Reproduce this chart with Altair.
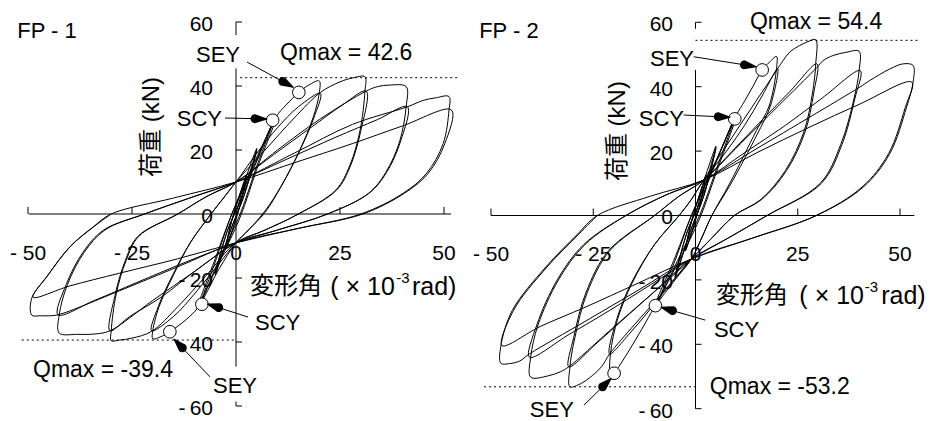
import math
import altair as alt
import pandas as pd

FONT = "Liberation Sans, Noto Sans CJK JP, sans-serif"

# ---------------- FP-1 hysteresis path (drift x10^-3 rad, load kN) ----------------
FP1_SMALL = [
    (0, 0), (2.5, 12), (1, 3), (-2.5, -11), (-1, -2), (2.5, 12), (1, 3), (-2.5, -11), (-1, -2),
    (5, 20.5), (2, 6), (-1, -4), (-5, -19), (-2, -5), (1, 4), (5, 20), (2, 6), (-1, -4), (-5, -18.5), (-2, -5), (1, 4),
    (9.5, 30.5), (5, 15), (1, 0), (-4, -14), (-9, -29.5), (-5, -15), (-1, 0), (4, 15), (9.6, 29.8), (5, 14), (1, -1),
    (-4, -15), (-9.2, -29), (-5, -14), (-1, 0),
]
FP1_L20 = [
    (4, 14), (9.6, 30.3), (12, 34), (15.1, 38), (17.5, 40.3), (20, 41.6), (20, 37.7),
    (18.5, 30), (15, 19), (11, 9), (7, 1), (3, -5), (0, -9), (-4, -17), (-9.2, -29.3), (-12, -33), (-15.9, -36.8),
    (-18, -38.3), (-20, -39), (-20, -36.5),
    (-18.5, -29), (-15, -19), (-11, -9), (-6, 0), (-3, 5), (0, 10),
    (5, 19), (10, 27), (15, 33.5), (20.3, 37.7), (18.7, 30), (15.2, 19.5), (11, 9), (7, 0.5), (3, -5), (0, -9),
    (-5, -17), (-10, -25), (-15, -32), (-20.3, -36.5), (-18.7, -29), (-15.2, -19), (-11, -9), (-6, 0), (-3, 5), (0, 10),
]
FP1_L30 = [
    (7, 20), (14, 30), (20.3, 38), (25, 41.3), (28, 42.5), (31, 42.9), (31, 38.4),
    (29.8, 26), (27.3, 15), (24, 7.5), (15, 0), (7, -5), (0, -9),
    (-7, -19), (-14, -29), (-20.3, -36.7), (-25, -38.8), (-28, -39.4), (-30, -39.6), (-30, -36.5),
    (-28.8, -25), (-26.4, -14.5), (-23.4, -7), (-14, 0), (-7, 5.5), (0, 10),
    (9, 18.5), (18, 27), (25.5, 34), (31.3, 38.4), (30, 26), (27.5, 15), (24.2, 7.5), (15, 0), (7, -5), (0, -9),
    (-9, -17), (-18, -26), (-25.5, -32), (-30.3, -36.5), (-29, -25), (-26.6, -14.5), (-23.6, -7), (-14, 0), (-7, 5.5), (0, 10),
]
FP1_L40 = [
    (10, 20), (20, 29.5), (31.3, 38.4), (34, 39.8), (37, 40.3), (40.9, 39.8), (40.9, 33.5),
    (39.3, 22.5), (36, 13), (31.9, 6.5), (22, 0), (10, -5), (0, -9),
    (-10, -18), (-20, -27), (-30.3, -36.5), (-34, -37.5), (-38, -37.6), (-42.5, -37.2), (-42.5, -31.5),
    (-40.5, -22), (-36.5, -12), (-31.5, -5), (-22, 0), (-10, 5.5), (0, 10),
    (12, 17), (24, 24), (34, 29.5), (41.2, 33.5), (39.5, 22.5), (36.2, 13), (32, 6.5), (22, 0), (10, -5), (0, -9),
    (-12, -15), (-24, -21.5), (-34, -27), (-42.8, -31.5), (-40.8, -22), (-36.8, -12), (-31.8, -5), (-22, 0), (-10, 5.5), (0, 10),
]
FP1_L50 = [
    (14, 19), (28, 28), (41.2, 33.5), (45, 35.5), (48, 36.3), (51.2, 36.7), (51.2, 32.5),
    (49.8, 22), (45.8, 12.7), (40.2, 6.5), (30, 0), (15, -4.5), (0, -9),
    (-14, -16.5), (-28, -24), (-42.8, -31.5), (-45, -31.8), (-47, -31.8), (-49.1, -31.6), (-49.1, -26.3),
    (-45.5, -19.6), (-39.9, -10.2), (-34.3, -4), (-30, 0), (-15, 5), (0, 10),
    (14, 16), (28, 22), (40, 27.5), (51.8, 32.5), (50.2, 22), (46.2, 12.7), (40.5, 6.5), (30.5, 0), (15, -4.5), (0, -9),
    (-14, -14), (-28, -18.5), (-40, -22.5), (-48.8, -26), (-45.3, -19.3), (-39.7, -10), (-34, -3.8), (-30, 0),
]

# ---------------- FP-2 hysteresis path ----------------
FP2_SMALL = [
    (0, 0), (2.5, 12.5), (1, 3), (-2.5, -11), (-1, -2), (2.5, 12), (1, 3), (-2.5, -11), (-1, -2),
    (5, 21.5), (2, 6), (-1, -4), (-5, -19.5), (-2, -5), (1, 4), (5, 21), (2, 6), (-1, -4), (-5, -19), (-2, -5), (1, 4),
    (9.8, 31), (5, 14), (1, 0), (-4, -13), (-9.8, -28.5), (-5, -14), (-1, 0), (4, 14), (9.9, 30.5), (5, 13), (1, -1),
    (-4, -14), (-10, -28), (-5, -13), (-1, 0),
]
FP2_L20 = [
    (4, 14), (9.9, 31), (12, 35.5), (14, 40), (16.3, 45.2), (18, 47.5), (19.8, 49.4), (19.8, 45.6),
    (18, 34), (14.9, 26.4), (8.3, 9.8), (4, 0), (1.5, -7), (-1, -13.5), (-5, -20), (-10, -28.5), (-13, -35),
    (-16.5, -42.5), (-19.9, -49), (-20.8, -50.3), (-20.8, -43),
    (-19, -32), (-15.5, -21), (-10, -9), (-4, 0), (-1, 5), (2, 11),
    (7, 19), (12, 28), (16, 36.5), (20.1, 45.6), (18.3, 34), (15, 25), (8.5, 9.5), (4, 0), (1.5, -7), (-1, -13.5),
    (-6, -21), (-11, -29), (-16, -36.5), (-21, -43), (-19.2, -32), (-15.7, -21), (-10, -9), (-4, 0), (-1, 5), (2, 11),
]
FP2_L30 = [
    (8, 22.5), (14, 34), (20.1, 45.6), (21.4, 48.1), (23, 50.7), (25.5, 52.8), (27.5, 54), (29.4, 54.6), (29.4, 47.1),
    (28.6, 38), (26.5, 26), (22, 14), (16, 5), (9.5, 0), (4, -7), (-1, -13.5),
    (-8, -24), (-15, -34), (-21, -43), (-23, -47), (-26, -50.5), (-28.5, -52.5), (-30.7, -53.2), (-30.7, -47),
    (-29.5, -38), (-26.5, -24), (-21, -11), (-10, 0), (-4, 6), (2, 11),
    (9, 20), (16, 29.3), (23, 38.4), (29.7, 47.1), (28.9, 38), (26.8, 26), (22.3, 14), (16.2, 5), (9.5, 0), (4, -7), (-1, -13.5),
    (-9, -22.5), (-17, -31.5), (-24, -39.5), (-31, -47), (-29.8, -38), (-26.8, -24), (-21.3, -11), (-10, 0), (-4, 6), (2, 11),
]
FP2_L40 = [
    (11, 22.3), (20, 33.7), (29.7, 46), (31.2, 48.1), (33.7, 49.7), (36.9, 50.7), (40, 51), (40, 45),
    (38.8, 36.5), (35.5, 22), (30.5, 10), (17.5, 0), (8, -7), (-1, -13.5),
    (-11, -24.7), (-21, -35.8), (-31, -47), (-33, -48.5), (-36, -49.8), (-40.3, -50.2), (-40.3, -44),
    (-38.5, -34), (-33.5, -20), (-27, -9), (-17, 0), (-7, 6.5), (2, 11),
    (12, 19.5), (22, 28), (31, 36.5), (40.3, 45), (39, 36.5), (35.8, 22), (30.8, 10), (17.5, 0), (8, -7), (-1, -13.5),
    (-11, -21.5), (-21, -29.5), (-31, -37), (-40.6, -44), (-38.8, -34), (-33.8, -20), (-27.3, -9), (-17, 0), (-7, 6.5), (2, 11),
]
FP2_L50 = [
    (15, 20.8), (28, 30.6), (40.2, 39.9), (42.6, 41.9), (47.5, 45.5), (50.8, 47.1), (53.2, 46.6), (53.2, 41.4),
    (51.6, 33.6), (47.5, 19.2), (41, 8.8), (29.6, 0), (14, -7), (-1, -13.5),
    (-14, -23.2), (-27, -32.9), (-40.6, -43), (-43, -45.2), (-45.5, -46), (-47.6, -45.9), (-47.6, -40.6),
    (-44.8, -29.5), (-36.6, -16), (-29, -6), (-24, 0), (-11, 6), (2, 11),
    (15, 19.5), (28, 27.5), (40, 34.5), (52.9, 41.4), (51.3, 33.6), (47.2, 19.2), (40.7, 8.8), (29.5, 0), (14, -7), (-1, -13.5),
    (-14, -21), (-27, -28.5), (-38, -34.5), (-47.3, -40.4), (-44.5, -29.5), (-36.3, -16), (-28.7, -6), (-24, 0),
]

# ---------------- axes ----------------
X_TICK_VALS = [-50, -25, 0, 25, 50]
X_TICK_TEXT = ["- 50", "- 25", "0", "25", "50"]
X_TICK_MARKS = [-50, -25, 25, 50]
Y_TICK_VALS = [60, 40, 20, 0, -20, -40, -60]
Y_TICK_TEXT = ["60", "40", "20", "0", "-\u200920", "-\u200940", "-\u200960"]
Y_TICK_MARKS = [60, 40, 20, -20, -40, -60]

# ---------------- markers / annotations ----------------
FP1_MARK_X = [15.1, 8.8, -8.2, -15.9]
FP1_MARK_Y = [38.0, 29.3, -28.2, -36.8]
FP2_MARK_X = [16.3, 9.6, -9.8, -19.9]
FP2_MARK_Y = [45.2, 30.0, -28.0, -49.0]

# arrow: label-side start and tip (at the marker's edge)
FP1_ARROW_X0 = [2.64, -2.64, 2.88, -6.25]
FP1_ARROW_Y0 = [47.5, 30.0, -32.2, -50.9]
FP1_ARROW_TX = [13.77, 7.45, -6.9, -14.9]
FP1_ARROW_TY = [39.6, 29.7, -28.1, -39.1]

FP2_ARROW_X0 = [-0.44, -2.89, 2.4, -27.3]
FP2_ARROW_Y0 = [49.3, 31.2, -32.5, -58.9]
FP2_ARROW_TX = [14.87, 8.51, -8.44, -20.6]
FP2_ARROW_TY = [46.2, 30.5, -28.5, -50.6]

HEAD_LEN = 12   # px
HEAD_WIDTH = 9  # px

QMAX_FP1 = [42.6, -39.4]
QMAX_FP2 = [54.4, -53.2]

PANELS = [
    dict(
        name="FP - 1", name_xy=(-52.6, 57.2),
        path=FP1_SMALL + FP1_L20 + FP1_L30 + FP1_L40 + FP1_L50,
        xdom=[-54.81, 55.53], ydom=[-62.19, 64.375],
        xaxis=(-49.8, 51.7), xtick_len=2.19, ytick_len=1.44,
        yaxis_segs=[(60, 55.9), (45.5, -47.7), (-58.6, -60)],
        xlab_y=-12.5, ylab_x=-5.53,
        qmax=QMAX_FP1, qline_x=[(1, 53.8), (-51.5, 0)],
        qtext=[(10.6, 50.3, "Qmax = 42.6"), (-48.8, -48.75, "Qmax = -39.4")],
        lab_right=[(0.96, 49.7, "SEY"), (-3.37, 29.7, "SCY")],
        lab_left=[(4.57, -34.1, "SCY"), (-5.53, -53.75, "SEY")],
        mx=FP1_MARK_X, my=FP1_MARK_Y,
        ax0=FP1_ARROW_X0, ay0=FP1_ARROW_Y0, atx=FP1_ARROW_TX, aty=FP1_ARROW_TY,
        ytitle=(-20.2, 27.2),
        xt_main=(3.37, -22.8), xt_par=38.2, xt_sup=(38.5, -20.0), xt_rad=42.3,
    ),
    dict(
        name="FP - 2", name_xy=(-52.9, 57.3),
        path=FP2_SMALL + FP2_L20 + FP2_L30 + FP2_L40 + FP2_L50,
        xdom=[-55.87, 56.36], ydom=[-61.34, 64.44],
        xaxis=(-50.0, 53.5), xtick_len=2.17, ytick_len=1.47,
        yaxis_segs=[(60, 58.0), (45.2, -60)],
        xlab_y=-12.3, ylab_x=-5.5,
        qmax=QMAX_FP2, qline_x=[(0, 55.0), (-51.7, 0)],
        qtext=[(13.3, 60.1, "Qmax = 54.4"), (3.5, -53.3, "Qmax = -53.2")],
        lab_right=[(-0.37, 48.6, "SEY"), (-2.8, 30.0, "SCY")],
        lab_left=[(4.5, -35.6, "SCY"), (-40.5, -60.4, "SEY")],
        mx=FP2_MARK_X, my=FP2_MARK_Y,
        ax0=FP2_ARROW_X0, ay0=FP2_ARROW_Y0, atx=FP2_ARROW_TX, aty=FP2_ARROW_TY,
        ytitle=(-19.0, 26.2),
        xt_main=(5.0, -25.0), xt_par=41.2, xt_sup=(41.4, -22.2), xt_rad=45.4,
    ),
]

W, H = 459, 405


def make_panel(p):
    xs = alt.Scale(domain=p["xdom"], nice=False, zero=False)
    ys = alt.Scale(domain=p["ydom"], nice=False, zero=False)
    kx = W / (p["xdom"][1] - p["xdom"][0])   # px per x unit
    ky = H / (p["ydom"][1] - p["ydom"][0])   # px per y unit

    def X(f):
        return alt.X(f, type="quantitative", scale=xs, axis=None)

    def Y(f):
        return alt.Y(f, type="quantitative", scale=ys, axis=None)

    def text(rows, **kw):
        df = pd.DataFrame({"x": [r[0] for r in rows], "y": [r[1] for r in rows], "t": [r[2] for r in rows]})
        kw.setdefault("font", FONT)
        return alt.Chart(df).mark_text(color="black", **kw).encode(
            x=X("x"), y=Y("y"), text="t:N")

    path = p["path"]
    curve_df = pd.DataFrame({"x": [q[0] for q in path], "y": [q[1] for q in path], "i": list(range(len(path)))})
    curve = alt.Chart(curve_df).mark_line(
        color="black", strokeWidth=1, strokeJoin="round", interpolate="catmull-rom").encode(
        x=X("x"), y=Y("y"), order=alt.Order("i:Q"))

    xaxis = alt.Chart(pd.DataFrame({"x": [p["xaxis"][0]], "x2": [p["xaxis"][1]], "y": [0]})).mark_rule(
        color="black", strokeWidth=1).encode(x=X("x"), x2="x2:Q", y=Y("y"))
    xticks = alt.Chart(pd.DataFrame({"x": X_TICK_MARKS, "y": [0] * 4, "y2": [p["xtick_len"]] * 4})).mark_rule(
        color="black", strokeWidth=1).encode(x=X("x"), y=Y("y"), y2="y2:Q")
    segs = p["yaxis_segs"]
    yaxis = alt.Chart(pd.DataFrame({"x": [0] * len(segs), "y": [s[0] for s in segs], "y2": [s[1] for s in segs]})).mark_rule(
        color="black", strokeWidth=1).encode(x=X("x"), y=Y("y"), y2="y2:Q")
    yticks = alt.Chart(pd.DataFrame({"x": [0] * 6, "x2": [p["ytick_len"]] * 6, "y": Y_TICK_MARKS})).mark_rule(
        color="black", strokeWidth=1).encode(x=X("x"), x2="x2:Q", y=Y("y"))

    qdf = pd.DataFrame({"x": [q[0] for q in p["qline_x"]], "x2": [q[1] for q in p["qline_x"]], "y": p["qmax"]})
    qlines = alt.Chart(qdf).mark_rule(color="black", strokeWidth=1, strokeDash=[2, 3]).encode(
        x=X("x"), x2="x2:Q", y=Y("y"))

    # arrow shafts: from label to tip
    adf = pd.DataFrame({"x": p["ax0"], "y": p["ay0"], "x2": p["atx"], "y2": p["aty"]})
    shafts = alt.Chart(adf).mark_rule(color="black", strokeWidth=1).encode(
        x=X("x"), y=Y("y"), x2="x2:Q", y2="y2:Q")

    # arrow heads: tapered trail from head base (wide) to tip (zero width)
    rows = []
    for k, (x0, y0, tx, ty) in enumerate(zip(p["ax0"], p["ay0"], p["atx"], p["aty"])):
        dxp, dyp = (tx - x0) * kx, (ty - y0) * ky
        d = math.hypot(dxp, dyp)
        bx = tx - HEAD_LEN * dxp / d / kx
        by = ty - HEAD_LEN * dyp / d / ky
        rows.append({"x": bx, "y": by, "w": HEAD_WIDTH, "k": k, "o": 0})
        rows.append({"x": tx, "y": ty, "w": 0, "k": k, "o": 1})
    hdf = pd.DataFrame(rows)
    heads = alt.Chart(hdf).mark_trail(color="black", opacity=1).encode(
        x=X("x"), y=Y("y"), size=alt.Size("w:Q", scale=None, legend=None),
        detail="k:N", order=alt.Order("o:Q"))

    mdf = pd.DataFrame({"x": p["mx"], "y": p["my"]})
    marks = alt.Chart(mdf).mark_point(
        shape="circle", filled=True, fill="white", stroke="black", strokeWidth=1, size=160, opacity=1).encode(
        x=X("x"), y=Y("y"))

    xlabels = text([(v, p["xlab_y"], t) for v, t in zip(X_TICK_VALS, X_TICK_TEXT)],
                   align="center", baseline="middle", fontSize=21)
    ylabels = text([(p["ylab_x"], v, t) for v, t in zip(Y_TICK_VALS, Y_TICK_TEXT)],
                   align="right", baseline="middle", fontSize=21, dy=3)
    name = text([(p["name_xy"][0], p["name_xy"][1], p["name"])], align="left", baseline="middle", fontSize=22)
    qtext = text(p["qtext"], align="left", baseline="middle", fontSize=23)
    lab_r = text(p["lab_right"], align="right", baseline="middle", fontSize=22)
    lab_l = text(p["lab_left"], align="left", baseline="middle", fontSize=22)
    ytitle = text([(p["ytitle"][0], p["ytitle"][1], "荷重 (kN)")], align="center", baseline="middle",
                  fontSize=24, angle=270)
    xm = p["xt_main"]
    xt1 = text([(xm[0], xm[1], "変形角")], align="left", baseline="middle", fontSize=24)
    xt2 = text([(p["xt_par"], xm[1], "( × 10")], align="right", baseline="middle", fontSize=25)
    xt3 = text([(p["xt_sup"][0], p["xt_sup"][1], "-3")], align="left", baseline="middle", fontSize=15)
    xt4 = text([(p["xt_rad"], xm[1], "rad)")], align="left", baseline="middle", fontSize=25)

    return alt.layer(
        curve, xaxis, xticks, yaxis, yticks, qlines, shafts, marks, heads,
        xlabels, ylabels, name, qtext, lab_r, lab_l, ytitle, xt1, xt2, xt3, xt4,
    ).properties(width=W, height=H)


chart = alt.hconcat(*[make_panel(p) for p in PANELS], spacing=0).configure_view(
    stroke=None).properties(padding=0, background="white")

chart.save("out.html", embed_options={"renderer": "svg", "actions": False})
